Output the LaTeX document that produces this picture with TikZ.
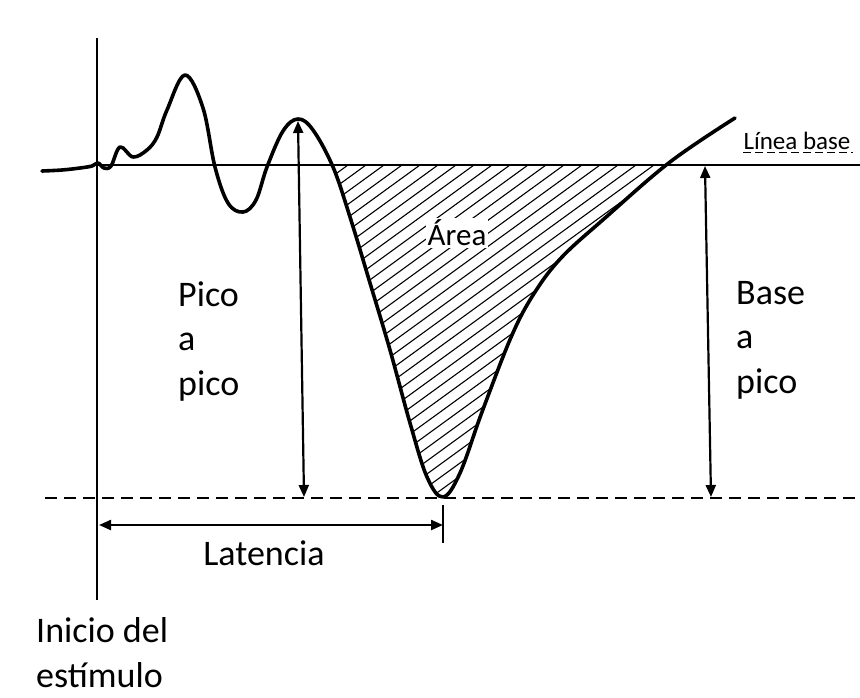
\documentclass[tikz,border=0pt]{standalone}
\usepackage{fontspec}
\setmainfont{Carlito}
\usetikzlibrary{arrows.meta}

\tikzset{
  wave/.style={line width=3.6pt, line cap=round, line join=round},
  dimarrow/.style={line width=2.2pt, {Triangle[length=12pt,width=10pt]}-{Triangle[length=12pt,width=10pt]}},
  label/.style={inner sep=0pt, font=\fontsize{36}{44.5}\selectfont, align=left}
}

\newcommand\erpwave{plot[smooth, tension=0.6] coordinates {
  (42,171) (62,170) (80,168) (92,166) (98,163) (104,168) (111,166)
  (120,147) (133,157) (147,150) (157,137) (167,110) (185,75) (203,108)
  (215,167) (228,203) (243,212) (256,200) (267,167) (283,131) (298,119)
  (313,130) (333,167) (350,217) (370,283) (390,350) (410,423) (427,477)
  (443,497) (460,473) (482,412) (512,335) (535,292) (562,257)
  (605,218) (670,162) (735,118)}}

\begin{document}
\begin{tikzpicture}[x=1pt, y=-1pt]
	\useasboundingbox (0,0) rectangle (860,697);

	% reference lines
	\draw[line width=1.4pt] (97,165) -- (860,165);
	\draw[line width=2pt, dash pattern=on 12pt off 7pt] (45,498) -- (860,498);
	\draw[line width=2pt] (97,38) -- (97,600);

	% hatched area
	\begin{scope}
		\clip (330,165) rectangle (680,500);
		\clip \erpwave -- (735,0) -- (42,0) -- cycle;
		\foreach \x in {330,348,...,1000}
			\draw[line width=1.1pt] (\x,165) -- ++(-520,378);
	\end{scope}

	\draw[wave] \erpwave;

	% named points
	\coordinate (peak) at (298,121);
	\coordinate (peakfoot) at (304,497);
	\coordinate (base) at (705,166);
	\coordinate (basefoot) at (711,497);
	\coordinate (onset) at (99,525);
	\coordinate (trough) at (443,525);
	\coordinate (ticktop) at (443,505);
	\coordinate (tickbot) at (443,543);

	\draw[dimarrow] (peak) -- (peakfoot);
	\draw[dimarrow] (base) -- (basefoot);
	\draw[dimarrow] (onset) -- (trough);
	\draw[line width=2pt] (ticktop) -- (tickbot);

	% labels
	\node[label, fill=white, inner sep=2pt, font=\fontsize{31}{36}\selectfont] (area) at (457,233) {Área};
	\node[label, anchor=base west] (pico) at (178,395) {Pico\\a\\pico};
	\node[label, anchor=base west] (basepico) at (736,393) {Base\\a\\pico};
	\node[label, anchor=base] (lat) at (264,565) {Latencia};
	\node[label, anchor=base west] (onsettxt) at (36,687) {Inicio del\\estímulo};
	\node[label, anchor=base, font=\fontsize{25}{30}\selectfont] (linea) at (797,149) {Línea base};
	\draw[line width=1pt, dash pattern=on 8pt off 4pt] (linea.south west) ++(0,3) -- ++(110,0);
\end{tikzpicture}
\end{document}
